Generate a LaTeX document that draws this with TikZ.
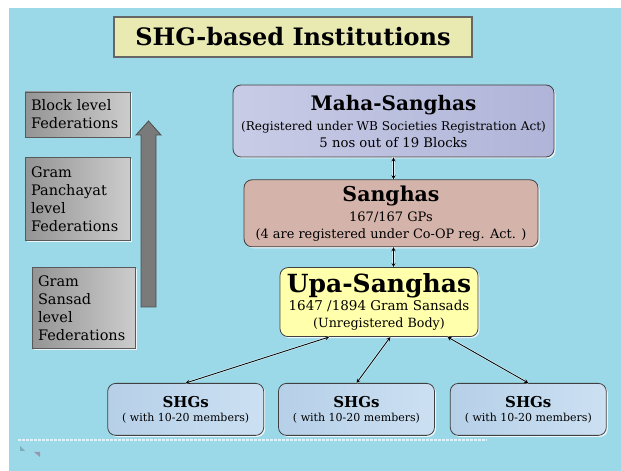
\documentclass[tikz,border=0pt]{standalone}
\usepackage{fontspec}
\setmainfont{DejaVu Serif}
\usetikzlibrary{positioning,shadows,arrows}
\definecolor{bgblue}{RGB}{155,217,233}
\definecolor{titlefill}{RGB}{232,234,178}
\definecolor{mahaL}{RGB}{200,204,230}
\definecolor{mahaR}{RGB}{176,180,216}
\definecolor{sanghafill}{RGB}{212,180,170}
\definecolor{upafill}{RGB}{255,255,172}
\definecolor{shgL}{RGB}{182,208,232}
\definecolor{shgR}{RGB}{204,224,242}
\tikzstyle{titlebox} = [draw=black!60, line width=1.2pt, fill=titlefill, inner sep=0pt, minimum width=358pt, minimum height=40pt]
\tikzstyle{inst} = [draw=black!75, line width=0.8pt, rounded corners=8pt, align=center, inner sep=0pt, font=\fontsize{13}{17}\selectfont, drop shadow={shadow xshift=1.5pt, shadow yshift=-1.5pt, fill=white, opacity=0.8}]
\tikzstyle{shgbox} = [inst, left color=shgL, right color=shgR, minimum width=156pt, minimum height=52pt, font=\fontsize{11}{14}\selectfont]
\tikzstyle{level} = [draw=black!65, line width=0.8pt, left color=black!42, right color=black!20, align=left, inner xsep=6pt, inner ysep=0pt, font=\fontsize{14.5}{18}\selectfont, drop shadow={shadow xshift=1.5pt, shadow yshift=-1.5pt, fill=white, opacity=0.8}]
\tikzstyle{link} = [<->, >=stealth, line width=0.8pt, preaction={draw, white, line width=2.2pt, opacity=0.5, -}]
\begin{document}
\begin{tikzpicture}[x=1pt, y=1pt]

\useasboundingbox (0,0) rectangle (621,471);
\fill [white] (0,0) rectangle (621,471);
\fill [bgblue] (9,0) rectangle (621,463);

\node [titlebox] (title) at (293,434) {\fontsize{24}{26}\selectfont\bfseries SHG-based Institutions};

% federations
\node [inst, left color=mahaL, right color=mahaR, minimum width=321pt, minimum height=72pt] (maha) at (393.5,350)
  {{\fontsize{20}{22}\selectfont\bfseries Maha-Sanghas}\\[3pt]
   {\fontsize{12.1}{17}\selectfont (Registered under WB Societies Registration Act)}\\
   {\fontsize{13.2}{17}\selectfont 5 nos out of 19 Blocks}};
\node [inst, fill=sanghafill, minimum width=294pt, minimum height=67pt, below=22pt of maha, xshift=-2.5pt] (sanghas)
  {{\fontsize{20.5}{22}\selectfont\bfseries Sanghas}\\[3pt]
   {\fontsize{13}{17}\selectfont 167/167 GPs}\\
   {\fontsize{12.9}{17}\selectfont (4 are registered under Co-OP reg. Act. )}};
\node [inst, fill=upafill, minimum width=198pt, minimum height=69pt, below=20pt of sanghas, xshift=-12pt] (upa)
  {{\fontsize{25}{25}\selectfont\bfseries Upa-Sanghas}\\[1pt]
   {\fontsize{13.5}{17}\selectfont 1647 /1894 Gram Sansads}\\
   {\fontsize{12.7}{17}\selectfont (Unregistered Body)}};

% self help groups
\node [shgbox, below=46pt of upa, xshift=-22.5pt] (shg2)
  {{\fontsize{15}{17}\selectfont\bfseries SHGs}\\( with 10-20 members)};
\node [shgbox, left=14pt of shg2] (shg1)
  {{\fontsize{15}{17}\selectfont\bfseries SHGs}\\( with 10-20 members)};
\node [shgbox, right=15pt of shg2] (shg3)
  {{\fontsize{15}{17}\selectfont\bfseries SHGs}\\( with 10-20 members)};

\draw [link] (maha.south) -- (maha.south |- sanghas.north);
\draw [link] (sanghas.south -| maha.south) -- (maha.south |- upa.north);
\draw [link] (upa.215) -- (shg1.north);
\draw [link] (upa.288) -- (shg2.north);
\draw [link] (upa.333) -- (shg3.north);

% levels on the left
\node [level, text width=93pt, minimum height=45pt] (block) at (77.5,356.5) {Block level\\Federations};
\node [level, text width=93pt, minimum height=83pt, below=20pt of block] (panchayat) {Gram\\Panchayat\\level\\Federations};
\node [level, text width=91pt, minimum height=81pt, below=26pt of panchayat, xshift=6pt] (sansad) {Gram\\Sansad\\level\\Federations};

\draw [draw=black!70, fill=black!52, line width=0.8pt] (141,164) -- (141,336) -- (136,336) -- (148.5,350) -- (161,336) -- (156,336) -- (156,164) -- cycle;

% slide footer
\draw [white, opacity=0.7, dash pattern=on 3pt off 1pt, line width=1.2pt] (18,31) -- (487,31);
\fill [black!20!bgblue] (20,25) -- (25,20) -- (20,20) -- cycle;
\fill [black!25!mahaL] (40,19) -- (40,14) -- (34,19) -- cycle;
\end{tikzpicture}
\end{document}
